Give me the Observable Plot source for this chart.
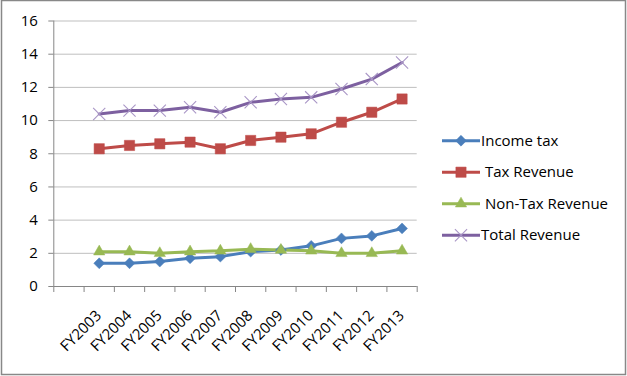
<!DOCTYPE html>
<html>
<head>
<meta charset="utf-8">
<script src="https://cdn.jsdelivr.net/npm/d3@7"></script>
<script src="https://cdn.jsdelivr.net/npm/@observablehq/plot@0.6"></script>
<style>
  html, body { margin: 0; padding: 0; background: #fff; }
  #chart { width: 627px; height: 376px; position: relative; }
  #chart svg { display: block; }
</style>
</head>
<body>
<div id="chart"></div>
<script>
// ---- data ----
const categories = ["FY2003","FY2004","FY2005","FY2006","FY2007","FY2008","FY2009","FY2010","FY2011","FY2012","FY2013"];
const incomeTax     = [1.4, 1.4, 1.5, 1.7, 1.8, 2.1, 2.2, 2.45, 2.9, 3.05, 3.5];
const taxRevenue    = [8.3, 8.5, 8.6, 8.7, 8.3, 8.8, 9.0, 9.2, 9.9, 10.5, 11.3];
const nonTaxRevenue = [2.1, 2.1, 2.0, 2.1, 2.15, 2.25, 2.2, 2.15, 2.0, 2.0, 2.15];
const totalRevenue  = [10.4, 10.6, 10.6, 10.8, 10.5, 11.1, 11.3, 11.4, 11.9, 12.5, 13.5];
const seriesNames   = ["Income tax", " Tax Revenue", " Non-Tax Revenue", "Total Revenue"];
const seriesValues  = [incomeTax, taxRevenue, nonTaxRevenue, totalRevenue];
const yTicks        = [0, 2, 4, 6, 8, 10, 12, 14, 16];

// ---- styles ----
const lineColors   = ["#4A7EBB", "#BE4B48", "#98B954", "#7D60A0"];
const markerFill   = ["#4A7EBB", "#BE4B48", "#98B954", "none"];
const markerStroke = ["#4A7EBB", "#BE4B48", "#98B954", "#A996C6"];
const symbols      = ["diamond2", "square", "triangle", "times"];
const markerR      = [4.9, 5.8, 4.2, 5.6];
const FONT = "'Open Sans', 'Noto Sans', sans-serif";

const rows = [];
seriesNames.forEach((name, s) => {
  seriesValues[s].forEach((v, i) => rows.push({series: s, name, i, fy: categories[i], value: v}));
});

// category boundaries (Excel draws ticks between categories; one empty leading slot)
const xMin = -1.5, xMax = categories.length - 0.5;
const boundaries = d3.range(xMin, xMax + 0.01, 1);

const marks = [
  Plot.gridY(yTicks, {stroke: "#BFBFBF", strokeOpacity: 1, strokeWidth: 1}),
  Plot.ruleX([xMin], {stroke: "#868686", strokeWidth: 1}),
  Plot.ruleY([0], {stroke: "#868686", strokeWidth: 1}),
  Plot.axisY(yTicks, {label: null, tickSize: 5, tickPadding: 11, stroke: "#868686", fill: "#000", fontSize: 15, fontFamily: FONT}),
  Plot.axisX(boundaries, {label: null, tickSize: 6, tickFormat: () => "", stroke: "#868686"}),
  Plot.text(categories, {
    x: (d, i) => i, y: () => 0, text: d => d,
    rotate: -45, textAnchor: "end", lineAnchor: "bottom",
    dx: 3, dy: 30, fontSize: 15, fontFamily: FONT, fill: "#000"
  })
];

seriesNames.forEach((name, s) => {
  const data = rows.filter(r => r.series === s);
  marks.push(Plot.line(data, {x: "i", y: "value", stroke: lineColors[s], strokeWidth: 3, strokeLinejoin: "round", strokeLinecap: "round"}));
});
seriesNames.forEach((name, s) => {
  const data = rows.filter(r => r.series === s);
  marks.push(Plot.dot(data, {
    x: "i", y: "value", symbol: () => symbols[s], r: markerR[s],
    fill: markerFill[s], stroke: markerStroke[s], strokeWidth: s === 3 ? 1.1 : 0.5, fillOpacity: 1
  }));
});

const chart = Plot.plot({
  width: 627, height: 376,
  marginLeft: 53.3, marginRight: 210.3, marginTop: 20.5, marginBottom: 90,
  style: {fontFamily: FONT, fontSize: "15px", color: "#000", background: "#fff", overflow: "visible"},
  x: {type: "linear", domain: [xMin, xMax], axis: null},
  y: {domain: [0, 16], axis: null},
  symbol: {type: "identity"},
  marks
});

document.getElementById("chart").appendChild(chart);

// ---- legend and outer border ----
const svg = d3.select(chart);
svg.append("rect")
  .attr("x", 1.5).attr("y", 0.5).attr("width", 624).attr("height", 374)
  .attr("fill", "none").attr("stroke", "#888").attr("stroke-width", 1.5);

const legend = svg.append("g").attr("font-family", FONT).attr("font-size", 15).attr("text-anchor", "start");
const rowY0 = 140.7, rowStep = 31.5;
const d3sym = {diamond2: d3.symbolDiamond2, square: d3.symbolSquare, triangle: d3.symbolTriangle, times: d3.symbolTimes};
seriesNames.forEach((name, s) => {
  const y = rowY0 + s * rowStep;
  const g = legend.append("g");
  g.append("line").attr("x1", 442).attr("x2", 480).attr("y1", y).attr("y2", y)
    .attr("stroke", lineColors[s]).attr("stroke-width", 3);
  g.append("path")
    .attr("transform", `translate(461,${y})`)
    .attr("d", d3.symbol(d3sym[symbols[s]], Math.PI * markerR[s] * markerR[s])())
    .attr("fill", markerFill[s]).attr("stroke", markerStroke[s]).attr("stroke-width", s === 3 ? 1.1 : 0.5);
  g.append("text").attr("x", 481).attr("y", y).attr("dy", "0.35em")
    .attr("text-anchor", "start")
    .style("white-space", "pre").attr("fill", "#000").text(name);
});
</script>
</body>
</html>
